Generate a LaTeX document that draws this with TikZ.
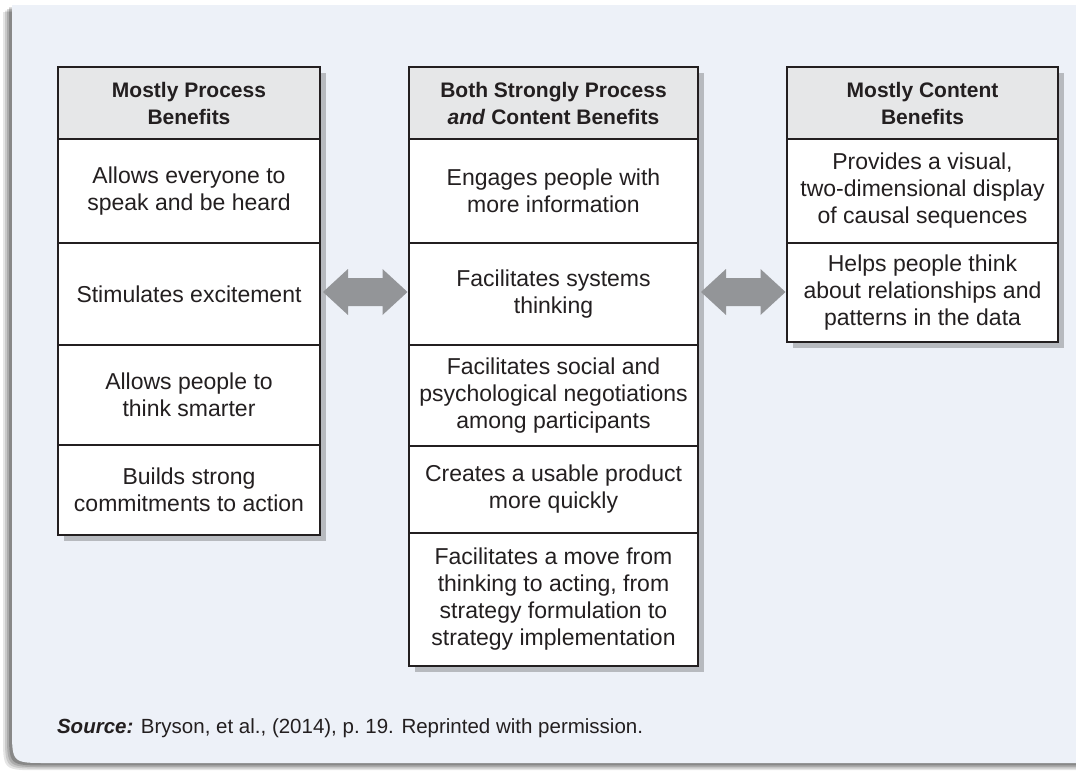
\documentclass[tikz,border=0pt]{standalone}
\usepackage{fontspec}
\setmainfont{Liberation Sans}
\usetikzlibrary{positioning,calc,shadows}

\definecolor{panelblue}{RGB}{237,241,248}
\definecolor{headgray}{RGB}{230,231,232}
\definecolor{boxshadow}{RGB}{183,186,191}
\definecolor{arrowgray}{RGB}{147,149,152}
\definecolor{inkdark}{RGB}{35,31,32}

\tikzset{
  cell/.style={draw=inkdark, line width=1pt, fill=white, outer sep=0pt,
    inner sep=2pt, align=center, text=inkdark,
    font=\fontsize{11.5}{13.5}\selectfont,
    drop shadow={shadow xshift=3pt, shadow yshift=-3pt, fill=boxshadow, opacity=1}},
  headcell/.style={cell, fill=headgray, font=\bfseries\fontsize{10.5}{13.5}\selectfont},
  leftcol/.style={minimum width=131pt},
  midcol/.style={minimum width=144.5pt},
  rightcol/.style={minimum width=135.5pt},
}

% Doppelpfeil zwischen zwei Zellen
\newcommand{\bothways}[2]{%
  \fill[arrowgray] let \p1=(#1.east), \p2=(#2.west),
      \p3=(\x1+1.5pt,\y1+1pt), \p4=(\x2-0.75pt,\y1+1pt) in
    (\p3) -- (\x3+12.5pt,\y3+11.5pt) -- (\x3+12.5pt,\y3+7pt)
    -- (\x4-12.5pt,\y4+7pt) -- (\x4-12.5pt,\y4+11.5pt) -- (\p4)
    -- (\x4-12.5pt,\y4-11.5pt) -- (\x4-12.5pt,\y4-7pt)
    -- (\x3+12.5pt,\y3-7pt) -- (\x3+12.5pt,\y3-11.5pt) -- cycle;}

\begin{document}
\begin{tikzpicture}[x=0.5pt, y=-0.5pt]
    \useasboundingbox (0,0) rectangle (1076,771);
    \fill[white] (0,0) rectangle (1076,771);

    % Hintergrund mit Schatten
    \foreach \s/\op in {9/0.1, 7/0.12, 5/0.15, 3/0.2}
        \fill[black, opacity=\op] (1080,5+\s*0.8) -- (12-\s,5+\s*0.8) -- (12-\s,728+\s*0.8)
            .. controls (12-\s,763+\s*0.8) .. (47-\s,763+\s*0.8) -- (1080,763+\s*0.8) -- cycle;
    \fill[panelblue] (1080,5) -- (12,5) -- (12,728) .. controls (12,763) .. (47,763)
        -- (1080,763) -- cycle;

    % Linke Spalte
    \node[headcell, leftcol, minimum height=36pt, anchor=north west] (lh) at (58,67)
        {Mostly Process\\Benefits};
    \node[cell, leftcol, minimum height=52pt, below=0pt of lh] (l1)
        {Allows everyone to\\speak and be heard};
    \node[cell, leftcol, minimum height=51pt, below=0pt of l1] (l2)
        {Stimulates excitement};
    \node[cell, leftcol, minimum height=50pt, below=0pt of l2] (l3)
        {Allows people to\\think smarter};
    \node[cell, leftcol, minimum height=45pt, below=0pt of l3] (l4)
        {Builds strong\\commitments to action};

    % Mittlere Spalte
    \node[headcell, midcol, minimum height=36pt, anchor=north west] (mh) at (409,67)
        {Both Strongly Process\\\textit{and} Content Benefits};
    \node[cell, midcol, minimum height=52pt, below=0pt of mh] (m1)
        {Engages people with\\more information};
    \node[cell, midcol, minimum height=51pt, below=0pt of m1] (m2)
        {Facilitates systems\\thinking};
    \node[cell, midcol, minimum height=50.5pt, below=0pt of m2] (m3)
        {Facilitates social and\\psychological negotiations\\among participants};
    \node[cell, midcol, minimum height=43.5pt, below=0pt of m3] (m4)
        {Creates a usable product\\more quickly};
    \node[cell, midcol, minimum height=66.5pt, below=0pt of m4] (m5)
        {Facilitates a move from\\thinking to acting, from\\strategy formulation to\\strategy implementation};

    % Rechte Spalte
    \node[headcell, rightcol, minimum height=36pt, anchor=north west] (rh) at (787,67)
        {Mostly Content\\Benefits};
    \node[cell, rightcol, minimum height=52pt, below=0pt of rh] (r1)
        {Provides a visual,\\two-dimensional display\\of causal sequences};
    \node[cell, rightcol, minimum height=49.5pt, below=0pt of r1] (r2)
        {Helps people think\\about relationships and\\patterns in the data};

    % Pfeile
    \bothways{l2}{m2}
    \bothways{m2}{r2}

    % Quelle
    \node[anchor=base west, text=inkdark, font=\fontsize{10.25}{12}\selectfont] (src) at (50,733)
        {\textbf{\textit{Source:}} Bryson, et al., (2014), p.~19. Reprinted with permission.};
\end{tikzpicture}
\end{document}
